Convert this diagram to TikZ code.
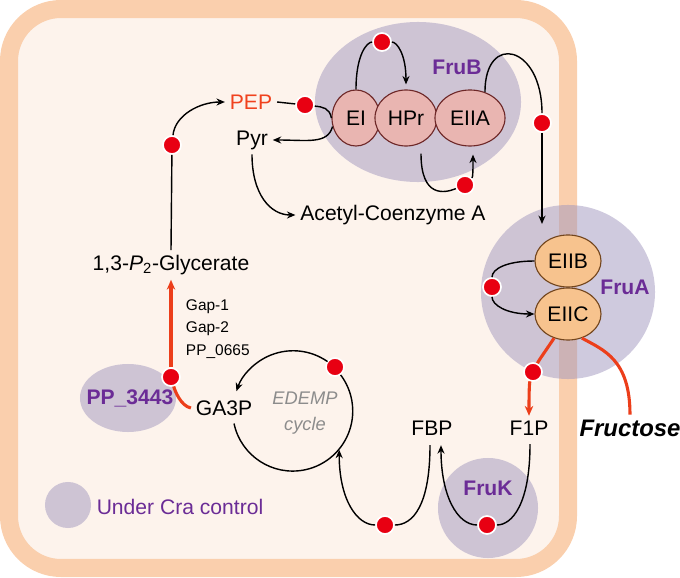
\documentclass[tikz,border=0pt]{standalone}
\usepackage{fontspec}
\setmainfont{Liberation Sans}
\usetikzlibrary{shapes.geometric, arrows.meta, calc}
\definecolor{membrane}{RGB}{250,207,173}
\definecolor{cytosol}{RGB}{253,243,236}
\definecolor{cragray}{RGB}{160,150,190}
\definecolor{eipink}{RGB}{233,181,177}
\definecolor{eiborder}{RGB}{110,40,40}
\definecolor{eiiorange}{RGB}{247,195,142}
\definecolor{eiiborder}{RGB}{115,70,30}
\definecolor{crapurple}{RGB}{107,44,150}
\definecolor{phosred}{RGB}{232,0,18}
\definecolor{fluxred}{RGB}{236,62,26}
\definecolor{pepred}{RGB}{240,66,30}
\definecolor{edempgray}{RGB}{140,140,140}
\tikzstyle{link} = [line width=1pt]
\tikzstyle{arrow} = [link, -{Stealth[length=6pt,width=5pt]}]
\tikzstyle{flux} = [line width=2.2pt, fluxred]
\tikzstyle{fluxarrow} = [flux, -{Stealth[length=7pt,width=6pt]}]
\tikzstyle{phos} = [circle, fill=phosred, draw=white, line width=1.2pt, minimum size=0.45cm, inner sep=0pt]
\tikzstyle{cra} = [ellipse, fill=cragray, fill opacity=0.5, inner sep=0pt]
\tikzstyle{ptspink} = [ellipse, fill=eipink, draw=eiborder, line width=0.8pt, inner sep=0pt]
\tikzstyle{ptsorange} = [ellipse, fill=eiiorange, draw=eiiborder, line width=0.8pt, inner sep=0pt]
\tikzstyle{metab} = [font=\fontsize{15}{18}\selectfont]
\tikzstyle{enzlabel} = [font=\fontsize{15}{18}\selectfont\bfseries, text=crapurple]
\tikzset{every node/.style={align=center}}
\begin{document}
\begin{tikzpicture}[x=0.025cm, y=-0.025cm]
    \useasboundingbox (0,0) rectangle (680,578);
    % cell
    \draw[draw=membrane, fill=cytosol, line width=0.45cm, rounded corners=1.3cm] (9,9) rectangle (568,568);

    % regions under Cra control
    \node[cra, minimum width=5.15cm, minimum height=4cm] (frub) at (418,102) {};
    \node[cra, minimum width=4.35cm, minimum height=4.35cm] (frua) at (568,292) {};
    \node[cra, minimum width=2.5cm, minimum height=2.5cm] (fruk) at (488,508) {};
    \node[cra, minimum width=2.4cm, minimum height=1.7cm] (pp3443) at (128,398) {};
    \node[cra, minimum width=1.15cm, minimum height=1.15cm] (legend) at (68,505) {};

    % PTS proteins
    \node[ptspink, minimum width=1.2cm, minimum height=1.4cm, metab] (EI) at (356,118) {EI};
    \node[ptspink, minimum width=1.55cm, minimum height=1.4cm, metab] (HPr) at (406,118) {HPr};
    \node[ptspink, minimum width=1.75cm, minimum height=1.4cm, metab] (EIIA) at (470,118) {EIIA};
    \node[ptsorange, minimum width=1.65cm, minimum height=1.3cm, metab] (EIIB) at (568,261) {EIIB};
    \node[ptsorange, minimum width=1.65cm, minimum height=1.3cm, metab] (EIIC) at (568,314) {EIIC};

    % labels
    \node[enzlabel] (frubname) at (457,67) {FruB};
    \node[enzlabel] (fruaname) at (625,287) {FruA};
    \node[enzlabel] (frukname) at (488,488) {FruK};
    \node[enzlabel] (ppname) at (130,398) {PP\_3443};
    \node[metab, text=crapurple] (legendname) at (180,507) {Under Cra control};

    % metabolites
    \node[metab, text=pepred] (PEP) at (251,102) {PEP};
    \node[metab] (Pyr) at (252,140) {Pyr};
    \node[metab] (acetyl) at (393,215) {Acetyl-Coenzyme A};
    \node[metab] (glycerate) at (171,265) {1,3-\textit{P}\textsubscript{2}-Glycerate};
    \node[metab] (GA3P) at (224,408) {GA3P};
    \node[metab] (FBP) at (432,428) {FBP};
    \node[metab] (F1P) at (529,428) {F1P};
    \node[font=\fontsize{17}{20}\selectfont\bfseries\itshape] (fructose) at (630,428) {Fructose};
    \node[font=\fontsize{13}{19}\selectfont\itshape, text=edempgray] (edempname) at (305,413) {EDEMP\\cycle};
    \node[font=\fontsize{11}{16}\selectfont, align=left, anchor=west] (gapnames) at (181,329) {Gap-1\\Gap-2\\PP\_0665};
    \node[circle, minimum size=3cm, inner sep=0pt] (edemp) at (293,411) {};

    % phosphate groups
    \node[phos] (pHPr) at (382,42) {};
    \node[phos] (pEIIA) at (465,185) {};
    \node[phos] (pEIIB) at (542,123) {};
    \node[phos] (pPEP) at (305,105) {};
    \node[phos] (pGly) at (172,145) {};
    \node[phos] (pEIIC) at (492,287) {};
    \node[phos] (pF1P) at (533,372) {};
    \node[phos] (pFBP) at (487,525) {};
    \node[phos] (pEdemp) at (385,525) {};
    \node[phos] (pCycle) at (335,367) {};
    \node[phos] (pGA3P) at (171,377) {};
    \coordinate (fruaIn) at (542,224);

    % PTS relay
    \draw[link] (EI.north) .. controls +(0,-35) and +(-15,0) .. (pHPr);
    \draw[arrow] (pHPr) .. controls +(15,0) and +(0,-30) .. ($(HPr.north)+(0,-5)$);
    \draw[link] ($(HPr.south)+(15,7)$) .. controls +(0,45) and +(-20,8) .. (pEIIA);
    \draw[arrow] (pEIIA) .. controls +(8,-8) and +(0,15) .. ($(EIIA.south)+(3,8)$);
    \draw[link] (EIIA.60) .. controls +(0,-60) and +(0,-78) .. (pEIIB);
    \draw[arrow] (pEIIB) -- (fruaIn);
    \draw[link] (EIIB.west) .. controls +(-28,0) and +(0,-18) .. (pEIIC);
    \draw[arrow] (pEIIC) .. controls +(0,18) and +(-28,0) .. (EIIC.west);

    % PEP node
    \draw[link] (PEP.east) -- (pPEP);
    \draw[link] (pPEP) .. controls +(18,2) and +(-2,-10) .. (EI.west);
    \draw[arrow] (EI.200) .. controls +(-5,18) and +(35,0) .. (Pyr.east);
    \draw[arrow] (Pyr.south) .. controls +(0,40) and +(-25,0) .. (acetyl.west);
    \draw[link] (glycerate.north) -- (pGly);
    \draw[arrow] (pGly) .. controls +(3,-30) and +(-25,0) .. (PEP.west);

    % fructose uptake
    \draw[flux] (EIIC.240) .. controls +(-10,15) and +(6,-12) .. (pF1P);
    \draw[fluxarrow] (pF1P) .. controls +(-4,12) and +(0,-10) .. (F1P.north);
    \draw[flux] (fructose.north) .. controls +(0,-55) and +(22,12) .. (EIIC.300);

    % FruK and EDEMP cycle
    \draw[link] ($(F1P.south)+(1,4)$) .. controls +(0,60) and +(25,0) .. (pFBP);
    \draw[arrow] (pFBP) .. controls +(-30,0) and +(0,50) .. ($(FBP.south)+(9,5)$);
    \draw[link] ($(FBP.south)+(-2,5)$) .. controls +(0,60) and +(28,0) .. (pEdemp);
    \draw[arrow] (pEdemp) .. controls +(-28,0) and +(0,50) .. (edemp.-40);
    \draw[link] (edemp.192) arc[start angle=192, end angle=397, radius=1.5cm];
    \draw[arrow] (edemp.55) arc[start angle=55, end angle=161, radius=1.5cm];

    % GA3P dehydrogenation
    \draw[fluxarrow] (pGA3P) -- (glycerate.south);
    \draw[flux] (pGA3P) .. controls +(4,14) and +(-10,-2) .. (GA3P.west);
\end{tikzpicture}
\end{document}
